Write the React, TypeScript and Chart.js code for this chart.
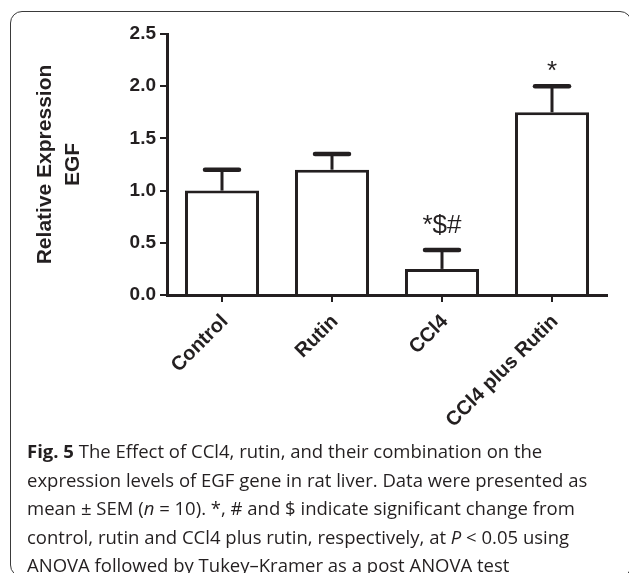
import React, { useEffect, useRef } from "react";
import { Chart, registerables } from "chart.js";

Chart.register(...registerables);

const categories = ["Control", "Rutin", "CCl4", "CCl4 plus Rutin"];
const meanValues = [1.0, 1.2, 0.25, 1.75];
const semValues = [0.2, 0.15, 0.18, 0.25];
const significance = ["", "", "*$#", "*"];
const yTickValues = [0, 0.5, 1.0, 1.5, 2.0, 2.5];
const yAxisTitle = ["Relative Expression", "EGF"];

const INK = "#231f20";
const CHART_FONT = '"Liberation Sans", Arial, Helvetica, sans-serif';

const errorBarPlugin = {
  id: "errorBars",
  afterDatasetsDraw(chart: any) {
    const { ctx } = chart;
    const meta = chart.getDatasetMeta(0);
    const yScale = chart.scales.y;
    ctx.save();
    meta.data.forEach((bar: any, i: number) => {
      const x = bar.x;
      const topY = yScale.getPixelForValue(meanValues[i]);
      const capY = yScale.getPixelForValue(meanValues[i] + semValues[i]);
      ctx.strokeStyle = INK;
      ctx.lineCap = "butt";
      ctx.lineWidth = 3;
      ctx.beginPath();
      ctx.moveTo(x, topY);
      ctx.lineTo(x, capY);
      ctx.stroke();
      ctx.lineWidth = 4.5;
      ctx.lineCap = "round";
      ctx.beginPath();
      ctx.moveTo(x - 17, capY);
      ctx.lineTo(x + 17, capY);
      ctx.stroke();
      const label = significance[i];
      if (label) {
        ctx.font = "26px " + CHART_FONT;
        ctx.fillStyle = INK;
        ctx.textAlign = "center";
        ctx.textBaseline = "alphabetic";
        const m = ctx.measureText(label);
        const descent = m.actualBoundingBoxDescent || 0;
        ctx.fillText(label, x, capY - 15 - descent);
      }
    });
    ctx.restore();
  },
};

export default function App() {
  const canvasRef = useRef<HTMLCanvasElement | null>(null);

  useEffect(() => {
    if (!canvasRef.current) return;
    const chart = new Chart(canvasRef.current, {
      type: "bar",
      data: {
        labels: categories,
        datasets: [
          {
            data: meanValues,
            backgroundColor: "#ffffff",
            borderColor: INK,
            borderWidth: 3,
            barPercentage: 0.673,
            categoryPercentage: 1,
          },
        ],
      },
      options: {
        animation: false,
        responsive: true,
        maintainAspectRatio: false,
        devicePixelRatio: 1,
        layout: { padding: { top: 34, right: 22, left: 0, bottom: 0 } },
        plugins: {
          legend: { display: false },
          tooltip: { enabled: false },
          title: { display: false },
        },
        scales: {
          x: {
            offset: true,
            grid: {
              display: true,
              drawOnChartArea: false,
              drawTicks: true,
              tickLength: 7,
              lineWidth: 2,
              color: INK,
              offset: false,
            },
            border: { display: true, color: INK, width: 3, z: 1 },
            ticks: {
              autoSkip: false,
              maxRotation: 45,
              minRotation: 45,
              padding: 8,
              labelOffset: 3,
              color: INK,
              font: { family: CHART_FONT, size: 20, weight: "bold" },
            },
            afterFit: (scale: any) => {
              scale.height = 145;
            },
          },
          y: {
            min: 0,
            max: 2.5,
            afterBuildTicks: (scale: any) => {
              scale.ticks = yTickValues.map((v) => ({ value: v }));
            },
            grid: {
              display: true,
              drawOnChartArea: false,
              drawTicks: true,
              tickLength: 7,
              lineWidth: 2,
              color: INK,
            },
            border: { display: true, color: INK, width: 3, z: 1 },
            ticks: {
              padding: 4,
              color: INK,
              font: { family: CHART_FONT, size: 19, weight: "bold" },
              callback: (v: any) => Number(v).toFixed(1),
            },
            title: {
              display: true,
              text: yAxisTitle,
              color: INK,
              padding: { top: 31, bottom: 0 },
              font: { family: CHART_FONT, size: 21, weight: "bold", lineHeight: 1.33 },
            },
            afterFit: (scale: any) => {
              scale.width = 167;
            },
          },
        },
      },
      plugins: [errorBarPlugin],
    });
    return () => chart.destroy();
  }, []);

  return (
    <div
      style={{
        position: "fixed",
        left: 0,
        top: 0,
        width: 629,
        height: 573,
        overflow: "hidden",
        background: "#ffffff",
      }}
    >
      <div
        style={{
          position: "absolute",
          left: 9.5,
          top: 11,
          width: 622,
          height: 566,
          border: "1.5px solid #3a3a3a",
          borderRadius: 12,
          boxSizing: "border-box",
        }}
      />
      <div style={{ position: "absolute", left: 0, top: 0, width: 629, height: 440 }}>
        <canvas ref={canvasRef} />
      </div>
      <div
        style={{
          position: "absolute",
          left: 27,
          top: 437,
          whiteSpace: "nowrap",
          fontFamily: '"Open Sans", "Noto Sans", sans-serif',
          fontSize: 18.5,
          lineHeight: "28.5px",
          color: "#231f20",
        }}
      >
        <b>Fig. 5</b> The Effect of CCl4, rutin, and their combination on the
        <br />
        expression levels of EGF gene in rat liver. Data were presented as
        <br />
        mean ± SEM (<i>n</i> = 10). *, # and $ indicate significant change from
        <br />
        control, rutin and CCl4 plus rutin, respectively, at <i>P</i> &lt; 0.05 using
        <br />
        ANOVA followed by Tukey–Kramer as a post ANOVA test
      </div>
    </div>
  );
}
